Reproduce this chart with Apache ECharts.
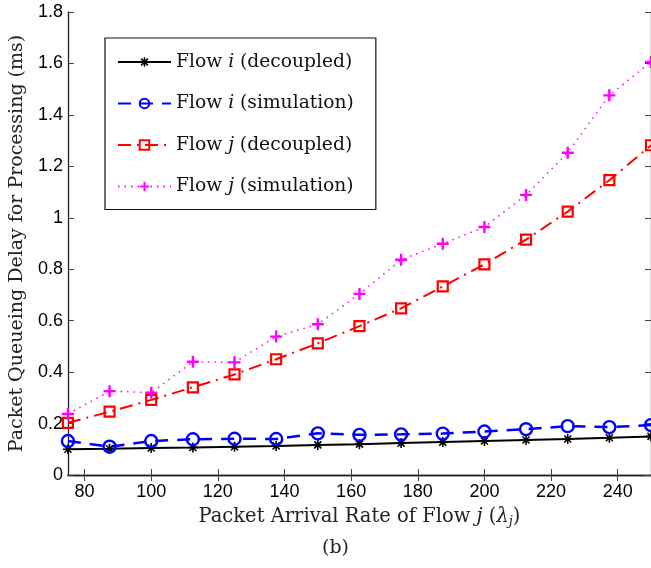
<!DOCTYPE html>
<html>
<head>
<meta charset="utf-8">
<script src="https://cdn.jsdelivr.net/npm/echarts@6/dist/echarts.min.js"></script>
<style>html,body{margin:0;padding:0;background:#fff}#c{width:651px;height:568px}</style>
</head>
<body>
<div id="c"></div>
<script>
const xValues = [75, 87.5, 100, 112.5, 125, 137.5, 150, 162.5, 175, 187.5, 200, 212.5, 225, 237.5, 250];
const flowIDecoupled = [0.100, 0.102, 0.105, 0.107, 0.110, 0.113, 0.117, 0.120, 0.124, 0.128, 0.132, 0.136, 0.140, 0.145, 0.150];
const flowISimulation = [0.132, 0.110, 0.132, 0.139, 0.141, 0.140, 0.162, 0.156, 0.158, 0.161, 0.169, 0.178, 0.190, 0.186, 0.194];
const flowJDecoupled = [0.203, 0.246, 0.292, 0.341, 0.391, 0.450, 0.512, 0.579, 0.648, 0.733, 0.819, 0.915, 1.024, 1.146, 1.282];
const flowJSimulation = [0.237, 0.326, 0.320, 0.440, 0.438, 0.538, 0.586, 0.704, 0.837, 0.899, 0.964, 1.089, 1.253, 1.476, 1.606];
const xTicks = [80, 100, 120, 140, 160, 180, 200, 220, 240];
const seriesNames = ['Flow i (decoupled)', 'Flow i (simulation)', 'Flow j (decoupled)', 'Flow j (simulation)'];

const pair = arr => xValues.map((x, i) => [x, arr[i]]);
const serif = '"DejaVu Serif", serif';
const sans = '"Liberation Sans", Arial, sans-serif';
const plusPath = 'path://M4,0H6V4H10V6H6V10H4V6H0V4H4Z';
const starPath = 'path://M0,4.2H10V5.8H0Z M4.2,0H5.8V10H4.2Z M2.07,0.93L9.07,7.93L7.93,9.07L0.93,2.07Z M9.07,2.07L2.07,9.07L0.93,7.93L7.93,0.93Z';

const chart = echarts.init(document.getElementById('c'));
const axisLineStyle = {color: '#222', width: 1.3};
chart.setOption({
  animation: false,
  backgroundColor: '#fff',
  grid: {left: 67.5, right: -3.5, top: 12, bottom: 93},
  xAxis: [{
    type: 'value', min: 75, max: 250, position: 'bottom',
    axisLine: {show: true, lineStyle: axisLineStyle},
    axisTick: {show: true, inside: true, length: 6, customValues: xTicks, lineStyle: {color: '#444'}},
    axisLabel: {customValues: xTicks, color: '#000', fontFamily: sans, fontSize: 18, margin: 8},
    splitLine: {show: false},
    name: 'Packet Arrival Rate of Flow {it|j} ({it|λ}{sub|j})',
    nameLocation: 'middle', nameGap: 31,
    nameTextStyle: {color: '#222', fontFamily: serif, fontSize: 19.5,
      rich: {it: {fontStyle: 'italic', fontFamily: serif, fontSize: 19.5, color: '#222'},
             sub: {fontStyle: 'italic', fontFamily: serif, fontSize: 13, color: '#222', verticalAlign: 'bottom', padding: [9, 0, 0, 0]}}}
  }, {
    type: 'value', min: 75, max: 250, position: 'top',
    axisLine: {show: true, lineStyle: axisLineStyle},
    axisTick: {show: true, inside: true, length: 6, customValues: xTicks, lineStyle: {color: '#444'}},
    axisLabel: {show: false}, splitLine: {show: false}
  }],
  yAxis: [{
    type: 'value', min: 0, max: 1.8, interval: 0.2, position: 'left',
    axisLine: {show: true, lineStyle: axisLineStyle},
    axisTick: {show: true, inside: true, length: 6, lineStyle: {color: '#444'}},
    axisLabel: {color: '#000', fontFamily: sans, fontSize: 18, margin: 5},
    splitLine: {show: false},
    name: 'Packet Queueing Delay for Processing (ms)',
    nameLocation: 'middle', nameGap: 37, nameRotate: 90,
    nameTextStyle: {color: '#222', fontFamily: serif, fontSize: 19}
  }, {
    type: 'value', min: 0, max: 1.8, interval: 0.2, position: 'right',
    axisLine: {show: true, lineStyle: axisLineStyle},
    axisTick: {show: true, inside: true, length: 6, lineStyle: {color: '#444'}},
    axisLabel: {show: false}, splitLine: {show: false}
  }],
  legend: {
    orient: 'vertical', left: 105, top: 38,
    padding: [14, 22, 13, 12],
    backgroundColor: '#fff', borderColor: '#111', borderWidth: 1.2,
    itemWidth: 53, itemHeight: 12, itemGap: 21.5,
    data: seriesNames,
    formatter: name => name.replace(/Flow (\w)/, 'Flow {it|$1}'),
    textStyle: {color: '#111', fontFamily: serif, fontSize: 18.7, lineHeight: 20,
      rich: {it: {fontStyle: 'italic', fontFamily: serif, fontSize: 18.7, color: '#111', lineHeight: 20}}}
  },
  series: [{
    name: seriesNames[0], type: 'line', data: pair(flowIDecoupled),
    symbol: starPath, symbolSize: 10,
    itemStyle: {color: '#000'},
    lineStyle: {color: '#000', width: 2, type: 'solid'}
  }, {
    name: seriesNames[1], type: 'line', data: pair(flowISimulation),
    symbol: 'circle', symbolSize: 12,
    itemStyle: {color: 'rgba(0,0,0,0)', borderColor: '#0000ff', borderWidth: 2.4},
    lineStyle: {color: '#0000ff', width: 2.5, type: [13, 9]}
  }, {
    name: seriesNames[2], type: 'line', data: pair(flowJDecoupled),
    symbol: 'rect', symbolSize: 10,
    itemStyle: {color: 'rgba(0,0,0,0)', borderColor: '#ff0000', borderWidth: 2.2},
    lineStyle: {color: '#ff0000', width: 2, type: [13, 6, 2, 6]}
  }, {
    name: seriesNames[3], type: 'line', data: pair(flowJSimulation),
    symbol: plusPath, symbolSize: 12,
    itemStyle: {color: '#ff00ff'},
    lineStyle: {color: '#ff00ff', width: 1.5, type: [1.5, 5]}
  }],
  graphic: [{
    type: 'text', left: 322, top: 539,
    style: {text: '(b)', font: '19px ' + serif, fill: '#222'}
  }]
});
</script>
</body>
</html>
